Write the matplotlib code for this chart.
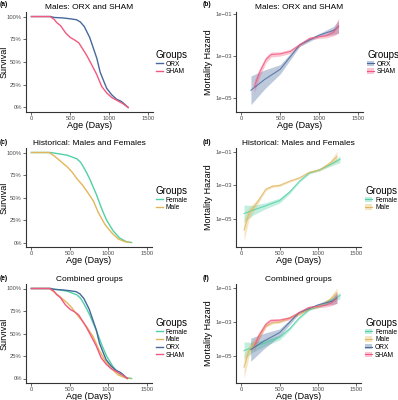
"""
Survival curves and mortality hazard for ORX / SHAM males and historical controls.
Six panels, saved to out.png.
"""

import numpy as np
import matplotlib.pyplot as plt
from matplotlib.lines import Line2D
from matplotlib.patches import Patch

plt.rcParams["font.family"] = ["Liberation Sans", "DejaVu Sans"]

# ---- survival curves (age in days, fraction alive) ----
orx_age = [0, 250, 290, 400, 500, 580, 630, 680, 715, 750, 778, 810, 842, 884, 926, 969, 1033, 1096, 1150, 1181, 1245]
orx_surv = [1.0, 1.0, 0.99, 0.985, 0.975, 0.965, 0.94, 0.89, 0.83, 0.77, 0.70, 0.62, 0.54, 0.39, 0.30, 0.21, 0.14,
            0.09, 0.07, 0.05, 0.0]

sham_age = [0, 240, 290, 330, 375, 440, 500, 560, 610, 670, 720, 757, 800, 842, 905, 969, 1033, 1117, 1181, 1245]
sham_surv = [1.0, 1.0, 0.97, 0.93, 0.90, 0.82, 0.77, 0.74, 0.71, 0.63, 0.56, 0.50, 0.43, 0.36, 0.23, 0.16, 0.11,
             0.07, 0.04, 0.0]

female_age = [0, 250, 465, 590, 640, 675, 720, 760, 800, 845, 910, 975, 1060, 1145, 1230, 1300]
female_surv = [1.0, 1.0, 0.97, 0.93, 0.89, 0.84, 0.77, 0.70, 0.62, 0.53, 0.38, 0.25, 0.13, 0.05, 0.01, 0.0]

male_age = [0, 230, 300, 355, 410, 465, 530, 590, 660, 720, 805, 870, 955, 1040, 1125, 1210, 1275]
male_surv = [1.0, 1.0, 0.96, 0.92, 0.88, 0.84, 0.78, 0.71, 0.64, 0.57, 0.46, 0.33, 0.20, 0.11, 0.04, 0.01, 0.0]

# ---- hazard (log10 centre and half-width of the ribbon) ----
orx_hz_age = [122, 300, 500, 750, 1000, 1190, 1250]
orx_hz = [-4.62, -4.1, -3.62, -2.46, -2.0, -1.77, -1.6]
orx_hz_se = [0.68, 0.45, 0.22, 0.08, 0.07, 0.2, 0.3]

sham_hz_age = [165, 230, 317, 383, 500, 630, 750, 880, 1000, 1100, 1190, 1250]
sham_hz = [-4.45, -3.8, -3.15, -2.92, -2.89, -2.77, -2.46, -2.15, -2.08, -2.02, -1.85, -1.55]
sham_hz_se = [0.3, 0.22, 0.15, 0.12, 0.1, 0.1, 0.08, 0.07, 0.08, 0.1, 0.18, 0.35]

female_hz_age = [35, 145, 320, 500, 630, 760, 890, 1025, 1160, 1290]
female_hz = [-4.67, -4.48, -4.2, -3.9, -3.4, -2.75, -2.26, -2.07, -1.77, -1.45]
female_hz_se = [0.5, 0.3, 0.18, 0.15, 0.1, 0.07, 0.06, 0.06, 0.1, 0.2]

male_hz_age = [35, 100, 210, 320, 410, 500, 630, 760, 890, 1025, 1160, 1250]
male_hz = [-5.64, -4.67, -3.99, -3.23, -3.04, -3.0, -2.75, -2.55, -2.22, -2.07, -1.68, -1.29]
male_hz_se = [0.65, 0.35, 0.15, 0.08, 0.07, 0.07, 0.06, 0.06, 0.06, 0.07, 0.12, 0.3]

COLORS = {
    "Female": "#4fd1a5",
    "Male": "#e2b65a",
    "ORX": "#46699c",
    "SHAM": "#f2587f",
}

W, H = 398, 400


def add_axes_px(fig, left, top, right, bottom):
    ax = fig.add_axes([left / W, 1 - bottom / H, (right - left) / W, (bottom - top) / H])
    ax.px_left = left
    ax.px_width = right - left
    return ax


def style_axes(ax, title, ylabel, ylabel_right_px):
    for side in ["top", "right"]:
        ax.spines[side].set_visible(False)
    for side in ["left", "bottom"]:
        ax.spines[side].set_color("#333333")
        ax.spines[side].set_linewidth(0.8)
    ax.tick_params(labelsize=4.2, colors="#4d4d4d", length=2, width=0.6, pad=1)
    ax.set_title(title, fontsize=6, pad=2)
    ax.set_xlabel("Age (Days)", fontsize=6.5, labelpad=0)
    ax.set_ylabel(ylabel, fontsize=6.5)
    # place the y label by hand so it stays inside the figure
    ax.yaxis.set_label_coords((ylabel_right_px - ax.px_left) / ax.px_width, 0.5)
    ax.set_xlim(-70, 1565)
    ax.set_xticks([0, 500, 1000, 1500])


def survival_panel(fig, rect, title, groups):
    ax = add_axes_px(fig, *rect)
    for name, age, surv in groups:
        ax.plot(age, surv, color=COLORS[name], lw=1.0)
    ax.set_ylim(-0.05, 1.05)
    ax.set_yticks([0, 0.25, 0.5, 0.75, 1.0])
    ax.set_yticklabels(["0%", "25%", "50%", "75%", "100%"])
    style_axes(ax, title, "Survival", 8.5)
    handles = [Line2D([], [], color=COLORS[g[0]], lw=1.0) for g in groups]
    labels = [g[0] for g in groups]
    return ax, handles, labels


def hazard_panel(fig, rect, title, groups, ylim):
    ax = add_axes_px(fig, *rect)
    for name, age, hz, se in groups:
        age = np.array(age)
        hz = np.array(hz)
        se = np.array(se)
        ax.fill_between(age, 10 ** (hz - se), 10 ** (hz + se), color=COLORS[name], alpha=0.35, lw=0)
        ax.plot(age, 10 ** hz, color=COLORS[name], lw=0.8, alpha=0.8)
    ax.set_yscale("log")
    ax.set_ylim(10 ** ylim[0], 10 ** ylim[1])
    ax.set_yticks([1e-5, 1e-3, 1e-1])
    ax.set_yticklabels(["1e\u221205", "1e\u221203", "1e\u221201"])
    ax.minorticks_off()
    style_axes(ax, title, "Mortality Hazard", 213)
    handles = [(Patch(color=COLORS[g[0]], alpha=0.35, lw=0), Line2D([], [], color=COLORS[g[0]], lw=0.8))
               for g in groups]
    labels = [g[0] for g in groups]
    return ax, handles, labels


def add_legend(fig, handles, labels, x_px, y_px):
    leg = fig.legend(handles, labels, title="Groups", loc="upper left",
                     bbox_to_anchor=(x_px / W, 1 - y_px / H), frameon=False,
                     fontsize=4.8, title_fontsize=7, handlelength=1.0, handleheight=0.8,
                     handletextpad=0.5, labelspacing=0.1, borderpad=0, borderaxespad=0,
                     alignment="left")
    return leg


def panel_label(fig, text, x_px, y_px):
    fig.text(x_px / W, 1 - y_px / H, text, fontsize=4.8, fontweight="bold", va="center", ha="left")


fig = plt.figure(figsize=(W / 100, H / 100), dpi=100)

orx_s = ("ORX", orx_age, orx_surv)
sham_s = ("SHAM", sham_age, sham_surv)
female_s = ("Female", female_age, female_surv)
male_s = ("Male", male_age, male_surv)

orx_h = ("ORX", orx_hz_age, orx_hz, orx_hz_se)
sham_h = ("SHAM", sham_hz_age, sham_hz, sham_hz_se)
female_h = ("Female", female_hz_age, female_hz, female_hz_se)
male_h = ("Male", male_hz_age, male_hz, male_hz_se)

# (a)
_, h, l = survival_panel(fig, (26, 12, 153, 112), "Males: ORX and SHAM", [orx_s, sham_s])
add_legend(fig, h, l, 156, 50)
# (b)
_, h, l = hazard_panel(fig, (236, 12, 363, 112), "Males: ORX and SHAM", [orx_h, sham_h], (-5.65, -0.9))
add_legend(fig, h, l, 367, 50)
# (c)
_, h, l = survival_panel(fig, (26, 148, 152, 247), "Historical: Males and Females", [female_s, male_s])
add_legend(fig, h, l, 156, 186)
# (d)
_, h, l = hazard_panel(fig, (236, 148, 361, 247), "Historical: Males and Females", [female_h, male_h], (-6.65, -0.78))
add_legend(fig, h, l, 365, 186)
# (e)
_, h, l = survival_panel(fig, (26, 284, 152, 383), "Combined groups", [female_s, male_s, orx_s, sham_s])
add_legend(fig, h, l, 156, 318)
# (f)
_, h, l = hazard_panel(fig, (236, 284, 361, 383), "Combined groups",
                       [female_h, male_h, orx_h, sham_h], (-6.57, -0.77))
add_legend(fig, h, l, 365, 318)

panel_label(fig, "(a)", 0, 5)
panel_label(fig, "(b)", 203, 5)
panel_label(fig, "(c)", 0, 142)
panel_label(fig, "(d)", 203, 142)
panel_label(fig, "(e)", 0, 278)
panel_label(fig, "(f)", 203, 278)

fig.savefig("out.png", dpi=100)
